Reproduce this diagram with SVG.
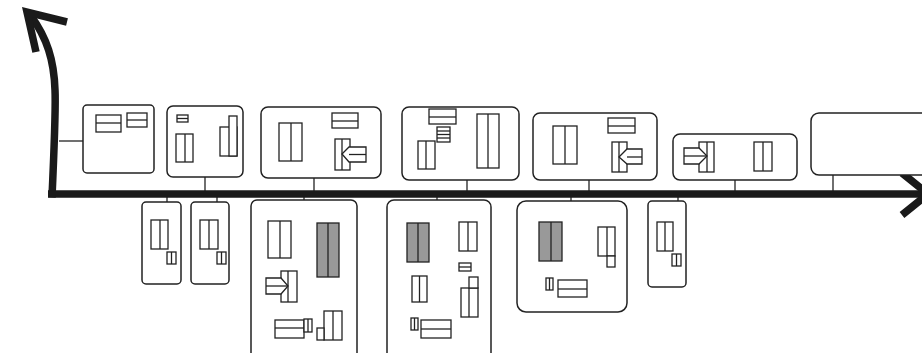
<svg xmlns="http://www.w3.org/2000/svg" width="922" height="353" viewBox="0 0 922 353">
<style>
.n{fill:#fff;stroke:#222;stroke-width:1.5}
.s{fill:#fff;stroke:#222;stroke-width:1.3}
.g{fill:#999;stroke:#222;stroke-width:1.3}
.l{fill:none;stroke:#222;stroke-width:1.3}
.c{fill:none;stroke:#222;stroke-width:1.3}
.ax{fill:none;stroke:#1a1a1a;stroke-width:7.5;stroke-linecap:butt;stroke-linejoin:miter}
</style>
<rect width="922" height="353" fill="#fff"/>
<g id="connectors">
<line class="c" x1="59" y1="141" x2="83" y2="141"/>
<line class="c" x1="205" y1="177" x2="205" y2="193"/>
<line class="c" x1="314" y1="178" x2="314" y2="193"/>
<line class="c" x1="467" y1="180" x2="467" y2="193"/>
<line class="c" x1="589" y1="180" x2="589" y2="193"/>
<line class="c" x1="735" y1="180" x2="735" y2="193"/>
<line class="c" x1="833" y1="175" x2="833" y2="193"/>
<line class="c" x1="167" y1="194" x2="167" y2="202"/>
<line class="c" x1="217" y1="194" x2="217" y2="202"/>
<line class="c" x1="304" y1="194" x2="304" y2="200"/>
<line class="c" x1="437" y1="194" x2="437" y2="200"/>
<line class="c" x1="571" y1="194" x2="571" y2="201"/>
<line class="c" x1="678" y1="194" x2="678" y2="201"/>
</g>
<g id="axes">
<path class="ax" d="M48,194 L922,194"/>
<path class="ax" d="M52,197.5 C54,150 56,110 55,90 C54,60 47,38 31,16"/>
<path class="ax" d="M67,22 L27,12 L36,52"/>
<path class="ax" d="M902,173 L928,194 L902,215"/>
</g>
<g id="node1">
<rect class="n" x="83" y="105" width="71" height="68" rx="4"/>
<rect class="s" x="96" y="115" width="25" height="17"/><line class="l" x1="96" y1="123" x2="121" y2="123"/>
<rect class="s" x="127" y="113" width="20" height="14"/><line class="l" x1="127" y1="120" x2="147" y2="120"/>
</g>
<g id="node2">
<rect class="n" x="167" y="106" width="76" height="71" rx="6"/>
<rect class="s" x="177" y="115" width="11" height="7"/><line class="l" x1="177" y1="118.5" x2="188" y2="118.5"/>
<rect class="s" x="176" y="134" width="17" height="28"/><line class="l" x1="185" y1="134" x2="185" y2="162"/>
<rect class="s" x="220" y="127" width="17" height="29"/><rect class="s" x="229" y="116" width="8" height="40"/>
</g>
<g id="node3">
<rect class="n" x="261" y="107" width="120" height="71" rx="7"/>
<rect class="s" x="279" y="123" width="23" height="38"/><line class="l" x1="291" y1="123" x2="291" y2="161"/>
<rect class="s" x="332" y="113" width="26" height="15"/><line class="l" x1="332" y1="121" x2="358" y2="121"/>
<rect class="s" x="335" y="139" width="15" height="31"/><line class="l" x1="342" y1="139" x2="342" y2="170"/>
<polygon class="s" points="342,154 349,147 366,147 366,162 349,162"/><line class="l" x1="349" y1="154.5" x2="366" y2="154.5"/>
</g>
<g id="node4">
<rect class="n" x="402" y="107" width="117" height="73" rx="7"/>
<rect class="s" x="429" y="109" width="27" height="15"/><line class="l" x1="429" y1="117" x2="456" y2="117"/>
<rect class="s" x="437" y="127" width="13" height="15"/><line class="l" x1="437" y1="131" x2="450" y2="131"/><line class="l" x1="437" y1="134.5" x2="450" y2="134.5"/><line class="l" x1="437" y1="138" x2="450" y2="138"/>
<rect class="s" x="418" y="141" width="17" height="28"/><line class="l" x1="426" y1="141" x2="426" y2="169"/>
<rect class="s" x="477" y="114" width="22" height="54"/><line class="l" x1="488" y1="114" x2="488" y2="168"/>
</g>
<g id="node5">
<rect class="n" x="533" y="113" width="124" height="67" rx="7"/>
<rect class="s" x="553" y="126" width="24" height="38"/><line class="l" x1="565" y1="126" x2="565" y2="164"/>
<rect class="s" x="608" y="118" width="27" height="15"/><line class="l" x1="608" y1="126" x2="635" y2="126"/>
<rect class="s" x="612" y="142" width="15" height="30"/><line class="l" x1="619" y1="142" x2="619" y2="172"/>
<polygon class="s" points="619,157 627,149 642,149 642,164 627,164"/><line class="l" x1="627" y1="157" x2="642" y2="157"/>
</g>
<g id="node6">
<rect class="n" x="673" y="134" width="124" height="46" rx="7"/>
<rect class="s" x="699" y="142" width="15" height="30"/><line class="l" x1="707" y1="142" x2="707" y2="172"/>
<polygon class="s" points="684,148 699,148 707,156 699,164 684,164"/><line class="l" x1="684" y1="156" x2="707" y2="156"/>
<rect class="s" x="754" y="142" width="18" height="29"/><line class="l" x1="763" y1="142" x2="763" y2="171"/>
</g>
<g id="node7">
<rect class="n" x="811" y="113" width="130" height="62" rx="8"/>
</g>
<g id="node8">
<rect class="n" x="142" y="202" width="39" height="82" rx="4"/>
<rect class="s" x="151" y="220" width="17" height="29"/><line class="l" x1="160" y1="220" x2="160" y2="249"/>
<rect class="s" x="167" y="252" width="9" height="12"/><line class="l" x1="171.5" y1="252" x2="171.5" y2="264"/>
</g>
<g id="node9">
<rect class="n" x="191" y="202" width="38" height="82" rx="4"/>
<rect class="s" x="200" y="220" width="18" height="29"/><line class="l" x1="209" y1="220" x2="209" y2="249"/>
<rect class="s" x="217" y="252" width="9" height="12"/><line class="l" x1="221.5" y1="252" x2="221.5" y2="264"/>
</g>
<g id="node10">
<rect class="n" x="251" y="200" width="106" height="165" rx="6"/>
<rect class="s" x="268" y="221" width="23" height="37"/><line class="l" x1="280" y1="221" x2="280" y2="258"/>
<rect class="g" x="317" y="223" width="22" height="54"/><line class="l" x1="328" y1="223" x2="328" y2="277"/>
<rect class="s" x="281" y="271" width="16" height="31"/><line class="l" x1="288" y1="271" x2="288" y2="302"/>
<polygon class="s" points="266,278 281,278 288,286 281,294 266,294"/><line class="l" x1="266" y1="286" x2="288" y2="286"/>
<rect class="s" x="275" y="320" width="29" height="18"/><line class="l" x1="275" y1="328" x2="304" y2="328"/>
<rect class="s" x="304" y="319" width="8" height="13"/><line class="l" x1="308" y1="319" x2="308" y2="332"/>
<rect class="s" x="324" y="311" width="18" height="29"/><line class="l" x1="333" y1="311" x2="333" y2="340"/>
<rect class="s" x="317" y="328" width="7" height="12"/>
</g>
<g id="node11">
<rect class="n" x="387" y="200" width="104" height="165" rx="7"/>
<rect class="g" x="407" y="223" width="22" height="39"/><line class="l" x1="418" y1="223" x2="418" y2="262"/>
<rect class="s" x="459" y="222" width="18" height="29"/><line class="l" x1="468" y1="222" x2="468" y2="251"/>
<rect class="s" x="459" y="263" width="12" height="8"/><line class="l" x1="459" y1="267" x2="471" y2="267"/>
<rect class="s" x="461" y="288" width="17" height="29"/><line class="l" x1="469" y1="288" x2="469" y2="317"/>
<rect class="s" x="469" y="277" width="9" height="11"/>
<rect class="s" x="412" y="276" width="15" height="26"/><line class="l" x1="419.5" y1="276" x2="419.5" y2="302"/>
<rect class="s" x="411" y="318" width="7" height="12"/><line class="l" x1="414.5" y1="318" x2="414.5" y2="330"/>
<rect class="s" x="421" y="320" width="30" height="18"/><line class="l" x1="421" y1="329" x2="451" y2="329"/>
</g>
<g id="node12">
<rect class="n" x="517" y="201" width="110" height="111" rx="9"/>
<rect class="g" x="539" y="222" width="23" height="39"/><line class="l" x1="551" y1="222" x2="551" y2="261"/>
<rect class="s" x="598" y="227" width="17" height="29"/><line class="l" x1="607" y1="227" x2="607" y2="256"/>
<rect class="s" x="607" y="256" width="8" height="11"/>
<rect class="s" x="546" y="278" width="7" height="12"/><line class="l" x1="549.5" y1="278" x2="549.5" y2="290"/>
<rect class="s" x="558" y="280" width="29" height="17"/><line class="l" x1="558" y1="289" x2="587" y2="289"/>
</g>
<g id="node13">
<rect class="n" x="648" y="201" width="38" height="86" rx="4"/>
<rect class="s" x="657" y="222" width="16" height="29"/><line class="l" x1="665" y1="222" x2="665" y2="251"/>
<rect class="s" x="672" y="254" width="9" height="12"/><line class="l" x1="676.5" y1="254" x2="676.5" y2="266"/>
</g>
</svg>
